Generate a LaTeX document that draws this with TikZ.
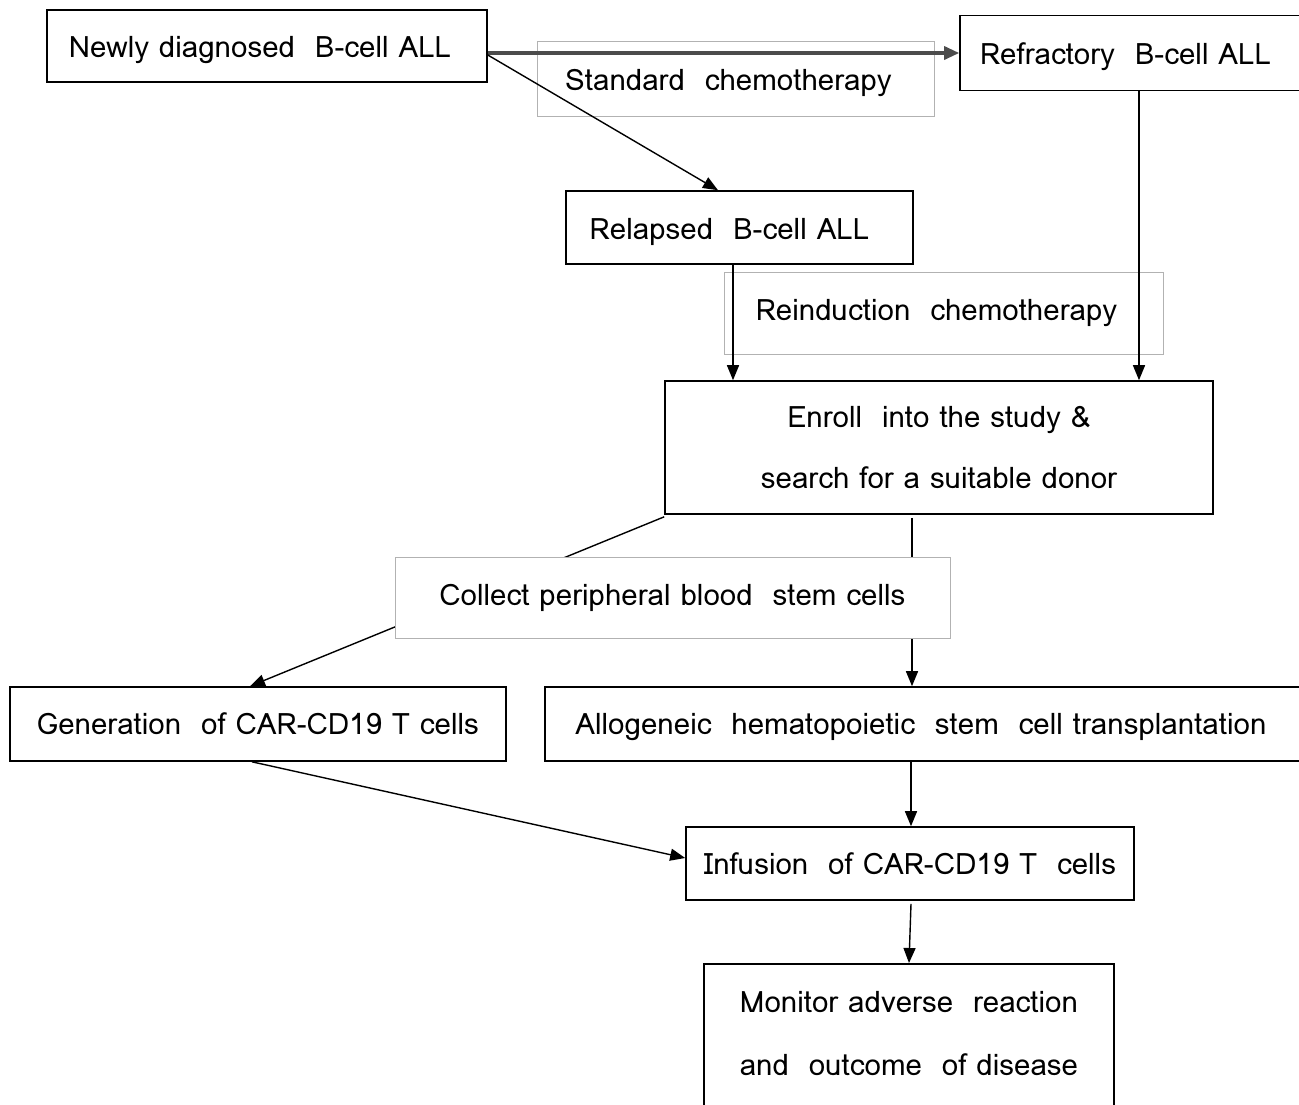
\documentclass[tikz,border=0pt]{standalone}
\usepackage{fontspec}
\setmainfont{Loma}
\usetikzlibrary{arrows.meta}
\begin{document}
\begin{tikzpicture}[x=1pt,y=-1pt,
  every node/.style={font=\fontsize{29.5}{34}\selectfont},
  stepbox/.style={draw=black, line width=1.6pt, fill=white, inner sep=0pt, align=center},
  lblbox/.style={draw=black!30, line width=0.9pt, inner sep=0pt, align=center},
  low/.style={text height=28pt, text depth=5pt},
  conn/.style={line width=1.4pt, -{Triangle[length=15pt,width=12pt]}}]
\useasboundingbox[fill=white] (0,0) rectangle (1299,1104);

% label boxes drawn beneath connectors
\node[lblbox, low, minimum width=397pt, minimum height=75pt] (stdlbl) at (735.5,78.5) {Standard\ \ chemotherapy\hspace{14pt}};
\node[lblbox, minimum width=439pt, minimum height=82pt] (reilbl) at (943.5,313) {Reinduction\ \ chemotherapy\hspace{14pt}};

% boxes
\node[stepbox, low, minimum width=440pt, minimum height=72pt] (newly) at (267,46) {Newly\ diagnosed\ \ B-cell\ ALL\hspace{14pt}};
\node[stepbox, low, minimum width=345pt, minimum height=75pt] (refr) at (1132.5,53) {Refractory\ \ B-cell ALL\hspace{14pt}};
\node[stepbox, low, minimum width=347pt, minimum height=73pt] (rel) at (739.5,227.5) {Relapsed\ \ B-cell ALL\hspace{20pt}};
\node[stepbox, minimum width=548pt, minimum height=133pt, font=\fontsize{29.5}{61}\selectfont] (enroll) at (939,447.5) {Enroll\ \ into\ the\ study \&\\search\ for\ a\ suitable\ donor};
\node[stepbox, minimum width=496pt, minimum height=74pt] (gen) at (258,724) {Generation\ \ of\ CAR-CD19 T\ cells};
\node[stepbox, text height=26pt, text depth=6pt, minimum width=760pt, minimum height=74pt] (allo) at (925,724) {Allogeneic\ \ hematopoietic\ \ stem\ \ cell\ transplantation\hspace{8pt}};
\node[stepbox, minimum width=448pt, minimum height=73pt] (inf) at (910,863.5) {Infusion\ \ of\ CAR-CD19 T\ \ cells};
\node[stepbox, minimum width=410pt, minimum height=175pt, anchor=north] (mon) at (909,963) {};
\node[align=center, inner sep=0pt, font=\fontsize{29.5}{63}\selectfont] (montext) at (909,1034) {Monitor\ adverse\ \ reaction\\and\ \ outcome\ \ of\ disease};

% connectors
\draw[line width=3.2pt, black!70, -{Triangle[length=15pt,width=13pt]}] (newly.east |- 0,53) -- (refr.west |- 0,53);
\draw[conn] (newly.east |- 0,55) -- (rel.north -| 718,0);
\draw[conn] (rel.south -| 733,0) -- (enroll.north -| 733,0);
\draw[conn] (refr.south -| 1139,0) -- (enroll.north -| 1139,0);
\draw[conn] (enroll.south west) ++(0,2) -- (gen.north -| 250,0);
\draw[conn] (enroll.south -| 912,0) ++(0,3) -- (allo.north -| 912,0);
\draw[conn] (allo.south -| 911,0) -- (inf.north -| 911,0);
\draw[conn] (gen.south -| 252,0) -- (inf.west |- 0,858);
\draw[conn] (inf.south -| 911,0) ++(0,3) -- (mon.north -| 909,0);

% collect label box covering the two lines
\node[draw=black!30, line width=0.9pt, fill=white, inner sep=0pt, minimum width=555pt, minimum height=81pt] (coll) at (672.5,597.5) {\raisebox{2pt}{Collect\ peripheral\ blood\ \ stem\ cells}\hspace{16pt}};
\end{tikzpicture}
\end{document}
